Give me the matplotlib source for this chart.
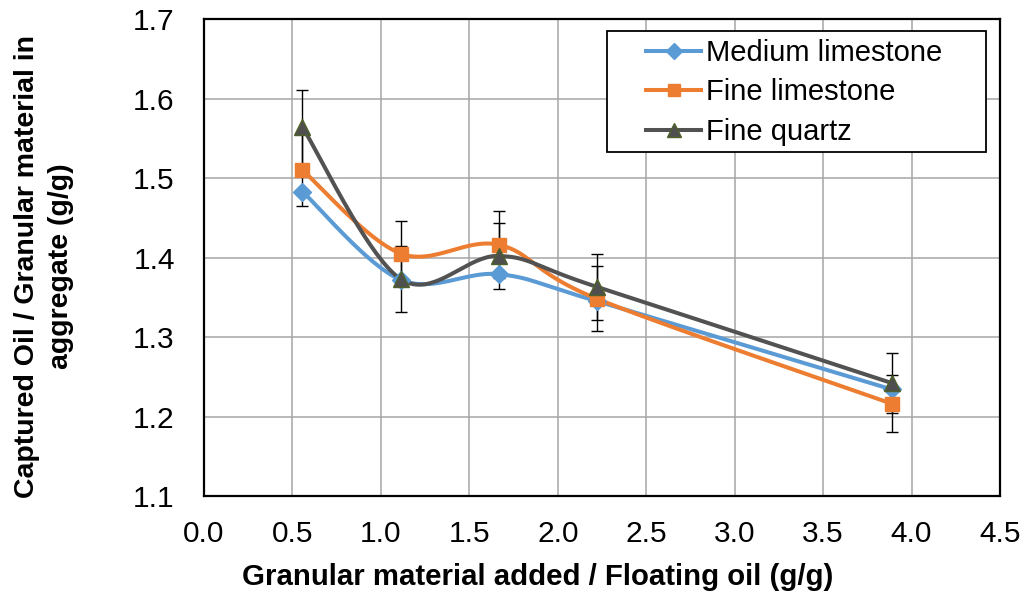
import numpy as np
import matplotlib
matplotlib.use("Agg")
import matplotlib.pyplot as plt
from matplotlib.lines import Line2D
from matplotlib.patches import Rectangle

plt.rcParams['font.family'] = ['Liberation Sans', 'DejaVu Sans']

# Data
x_vals = [0.556, 1.111, 1.667, 2.222, 3.889]
series_names = ["Medium limestone", "Fine limestone", "Fine quartz"]
medium_limestone = [1.483, 1.372, 1.379, 1.345, 1.234]
fine_limestone = [1.510, 1.405, 1.416, 1.348, 1.216]
fine_quartz = [1.564, 1.373, 1.402, 1.363, 1.242]
fine_limestone_err = [0.045, 0.041, 0.042, 0.041, 0.036]
fine_quartz_err = [0.047, 0.041, 0.042, 0.041, 0.038]
x_ticks = [0.0, 0.5, 1.0, 1.5, 2.0, 2.5, 3.0, 3.5, 4.0, 4.5]
y_ticks = [1.1, 1.2, 1.3, 1.4, 1.5, 1.6, 1.7]

W, H = 1027, 599
fig = plt.figure(figsize=(W / 100, H / 100), dpi=100)
ax_l, ax_r, ax_t, ax_b = 204, 1000, 19, 496
ax = fig.add_axes([ax_l / W, 1 - ax_b / H, (ax_r - ax_l) / W, (ax_b - ax_t) / H])
ax.set_xlim(0, 4.5)
ax.set_ylim(1.1, 1.7)
ax.set_xticks(x_ticks)
ax.set_yticks(y_ticks)
ax.set_xticklabels([f"{v:.1f}" for v in x_ticks])
ax.set_yticklabels([f"{v:.1f}" for v in y_ticks])
ax.tick_params(axis='both', length=0, labelsize=21.5)
ax.tick_params(axis='y', pad=21)
ax.tick_params(axis='x', pad=17)
ax.grid(True, color='#A6A6A6', linewidth=1.1)
ax.set_axisbelow(True)
for s in ax.spines.values():
    s.set_color('black')
    s.set_linewidth(1.6)


def px_to_axes(px, py):
    return (px - ax_l) / (ax_r - ax_l), (ax_b - py) / (ax_b - ax_t)


def smooth(xs, ys, n=40):
    """Catmull-Rom style Bezier smoothing computed in display space."""
    pts = ax.transData.transform(np.column_stack([xs, ys]))
    out = []
    m = len(pts)
    for i in range(m - 1):
        p0 = pts[i - 1] if i > 0 else pts[i]
        p1 = pts[i]
        p2 = pts[i + 1]
        p3 = pts[i + 2] if i + 2 < m else pts[i + 1]
        c1 = p1 + (p2 - p0) / 6.0
        c2 = p2 - (p3 - p1) / 6.0
        t = np.linspace(0, 1, n)[:, None]
        seg = ((1 - t) ** 3) * p1 + 3 * ((1 - t) ** 2) * t * c1 + 3 * (1 - t) * t ** 2 * c2 + t ** 3 * p2
        out.append(seg if i == 0 else seg[1:])
    out = np.vstack(out)
    d = ax.transData.inverted().transform(out)
    return d[:, 0], d[:, 1]


styles = [
    dict(color='#5B9BD5', marker='D', ms=9, mfc='#5B9BD5', mec='#5B9BD5'),
    dict(color='#ED7D31', marker='s', ms=10.5, mfc='#ED7D31', mec='#ED7D31'),
    dict(color='#525252', marker='^', ms=12, mfc='#4F4F4F', mec='#4E6128'),
]
data = [medium_limestone, fine_limestone, fine_quartz]
LW = 2.9

for ys, st in zip(data, styles):
    sx, sy = smooth(x_vals, ys)
    ax.plot(sx, sy, color=st['color'], lw=LW, solid_capstyle='round', zorder=3)

ax.errorbar(x_vals, fine_limestone, yerr=fine_limestone_err, fmt='none',
            ecolor='black', elinewidth=1.0, capsize=4.5, capthick=1.0, zorder=4)
ax.errorbar(x_vals, fine_quartz, yerr=fine_quartz_err, fmt='none',
            ecolor='black', elinewidth=1.0, capsize=4.5, capthick=1.0, zorder=4)

for ys, st in zip(data, styles):
    ax.plot(x_vals, ys, linestyle='none', marker=st['marker'], ms=st['ms'],
            mfc=st['mfc'], mec=st['mec'], mew=1.0, zorder=5)

# Legend: framed box with the entries inset from its left edge
bx0, by0 = px_to_axes(607, 152)
bx1, by1 = px_to_axes(986, 31)
ax.add_patch(Rectangle((bx0, by0), bx1 - bx0, by1 - by0, transform=ax.transAxes,
                       facecolor='white', edgecolor='black', linewidth=1.3,
                       zorder=6))
handles = [Line2D([], [], color=st['color'], lw=LW, marker=st['marker'],
                  ms=st['ms'] * 0.85, mfc=st['mfc'], mec=st['mec'])
           for st in styles]
lx, ly = px_to_axes(646, 39)
leg = ax.legend(handles, series_names, loc='upper left',
                bbox_to_anchor=(lx, ly), fontsize=21, frameon=False,
                handlelength=1.9, handletextpad=0.17, labelspacing=0.39,
                borderpad=0, borderaxespad=0)
leg.set_zorder(7)

ax.set_xlabel("Granular material added / Floating oil (g/g)", fontsize=21.2,
              fontweight='bold')
ax.xaxis.label.set_verticalalignment('center')
ax.xaxis.set_label_coords(*px_to_axes(538, 577))

ax.set_ylabel("Captured Oil / Granular material in\naggregate (g/g)", fontsize=20.5,
              fontweight='bold', linespacing=1.35)
ax.yaxis.label.set_verticalalignment('center')
ax.yaxis.set_label_coords(*px_to_axes(44, 266))

fig.savefig("out.png", dpi=100)
